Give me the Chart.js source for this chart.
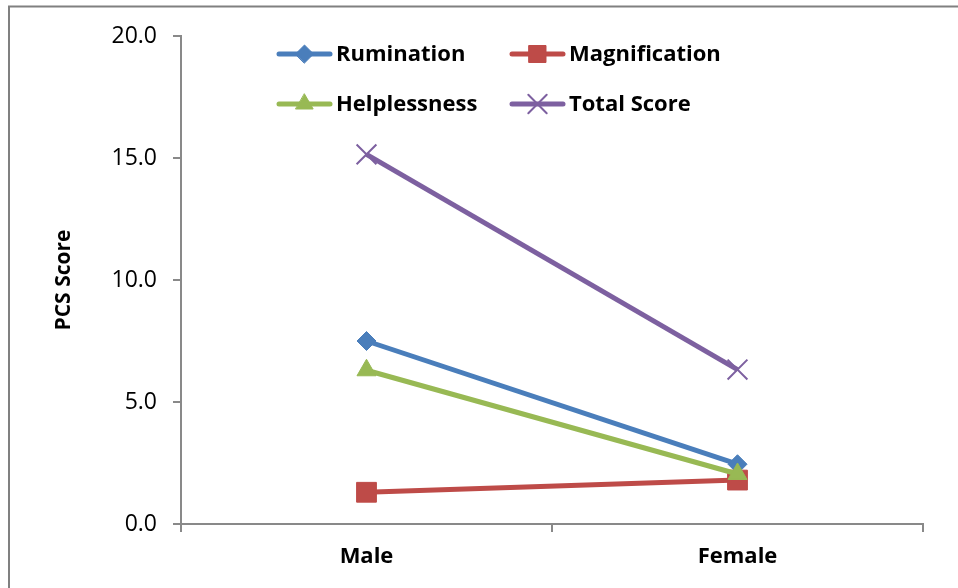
<!DOCTYPE html>
<html>
<head>
<meta charset="utf-8">
<script src="https://cdn.jsdelivr.net/npm/chart.js@4/dist/chart.umd.min.js"></script>
<style>
  html, body { margin: 0; padding: 0; background: #ffffff; }
  #wrap { width: 958px; height: 588px; }
</style>
</head>
<body>
<div id="wrap"><canvas id="c" width="958" height="588"></canvas></div>
<script>
// PCS subscale and total scores by sex
const categories = ['Male', 'Female'];
const rumination = [7.5, 2.45];
const magnification = [1.3, 1.8];
const helplessness = [6.3, 2.05];
const totalScore = [15.15, 6.33];
const seriesNames = ['Rumination', 'Magnification', 'Helplessness', 'Total Score'];
const yTicks = [0, 5, 10, 15, 20];

const FONT = "'Open Sans', 'DejaVu Sans', sans-serif";
const AXIS_GREY = '#898989';

// Grey frame on the left and top edges of the page
const framePlugin = {
  id: 'frame',
  beforeDraw(chart) {
    const ctx = chart.ctx;
    ctx.save();
    ctx.fillStyle = '#ffffff';
    ctx.fillRect(0, 0, chart.width, chart.height);
    ctx.strokeStyle = '#808080';
    ctx.lineWidth = 2;
    ctx.beginPath();
    ctx.moveTo(9, chart.height);
    ctx.lineTo(9, 6.5);
    ctx.lineTo(chart.width, 6.5);
    ctx.stroke();
    ctx.restore();
  }
};

// Two-column legend drawn inside the plot area
const inlineLegend = {
  id: 'inlineLegend',
  afterDatasetsDraw(chart) {
    const ctx = chart.ctx;
    const area = chart.chartArea;
    const colX = [area.left + 96, area.left + 329];
    const rowY = [area.top + 18, area.top + 68];
    chart.data.datasets.forEach((ds, i) => {
      const x = colX[i % 2];
      const y = rowY[Math.floor(i / 2)];
      ctx.save();
      ctx.strokeStyle = ds.borderColor;
      ctx.lineWidth = 5;
      ctx.lineCap = 'round';
      ctx.beginPath();
      ctx.moveTo(x + 2, y);
      ctx.lineTo(x + 53, y);
      ctx.stroke();
      ctx.fillStyle = ds.pointBackgroundColor;
      ctx.strokeStyle = ds.pointBorderColor;
      ctx.lineWidth = ds.pointBorderWidth;
      Chart.helpers.drawPoint(ctx, {
        pointStyle: ds.pointStyle,
        radius: ds.legendRadius,
        borderWidth: ds.pointBorderWidth,
        rotation: 0
      }, x + 27.5, y);
      ctx.fillStyle = '#000000';
      ctx.font = 'bold 22px ' + FONT;
      ctx.textAlign = 'left';
      ctx.textBaseline = 'middle';
      ctx.fillText(ds.label, x + 59, y + 1);
      ctx.restore();
    });
  }
};

function series(label, data, color, style, radius, legendRadius, bw, order) {
  return {
    label, data, order,
    borderColor: color,
    backgroundColor: color,
    pointBackgroundColor: color,
    pointBorderColor: color,
    pointStyle: style,
    pointRadius: radius,
    pointHoverRadius: radius,
    pointBorderWidth: bw,
    legendRadius,
    borderWidth: 5,
    tension: 0,
    fill: false
  };
}

new Chart(document.getElementById('c'), {
  type: 'line',
  data: {
    labels: categories,
    datasets: [
      series(seriesNames[0], rumination, '#4A7EBB', 'rectRot', 9.5, 9, 1, 4),
      series(seriesNames[1], magnification, '#BE4B48', 'rect', 14, 12, 1, 3),
      series(seriesNames[2], helplessness, '#98B954', 'triangle', 11, 10, 1, 2),
      series(seriesNames[3], totalScore, '#7D60A0', 'crossRot', 14, 13, 2, 1)
    ]
  },
  options: {
    responsive: false,
    animation: false,
    devicePixelRatio: 1,
    layout: { padding: { top: 36, right: 35, left: 0, bottom: 0 } },
    plugins: {
      legend: { display: false },
      tooltip: { enabled: false },
      title: { display: false }
    },
    scales: {
      x: {
        type: 'category',
        offset: true,
        grid: {
          offset: true,
          drawOnChartArea: false,
          drawTicks: true,
          tickLength: 8,
          color: AXIS_GREY,
          lineWidth: 2
        },
        border: { display: true, color: AXIS_GREY, width: 2 },
        ticks: {
          color: '#000000',
          padding: 12,
          font: { family: FONT, size: 22, weight: 'bold' }
        },
        afterFit(scale) { scale.height = 64; }
      },
      y: {
        min: yTicks[0],
        max: yTicks[yTicks.length - 1],
        afterBuildTicks(scale) { scale.ticks = yTicks.map(v => ({ value: v })); },
        grid: {
          drawOnChartArea: false,
          drawTicks: true,
          tickLength: 8,
          color: AXIS_GREY,
          lineWidth: 2
        },
        border: { display: true, color: AXIS_GREY, width: 2 },
        ticks: {
          color: '#000000',
          padding: 16,
          font: { family: FONT, size: 23 },
          callback: v => Number(v).toFixed(1)
        },
        title: {
          display: true,
          text: 'PCS Score',
          color: '#000000',
          padding: { top: 51, bottom: 0 },
          font: { family: FONT, size: 21, weight: 'bold' }
        },
        afterFit(scale) { scale.width = 181; }
      }
    }
  },
  plugins: [framePlugin, inlineLegend]
});
</script>
</body>
</html>
